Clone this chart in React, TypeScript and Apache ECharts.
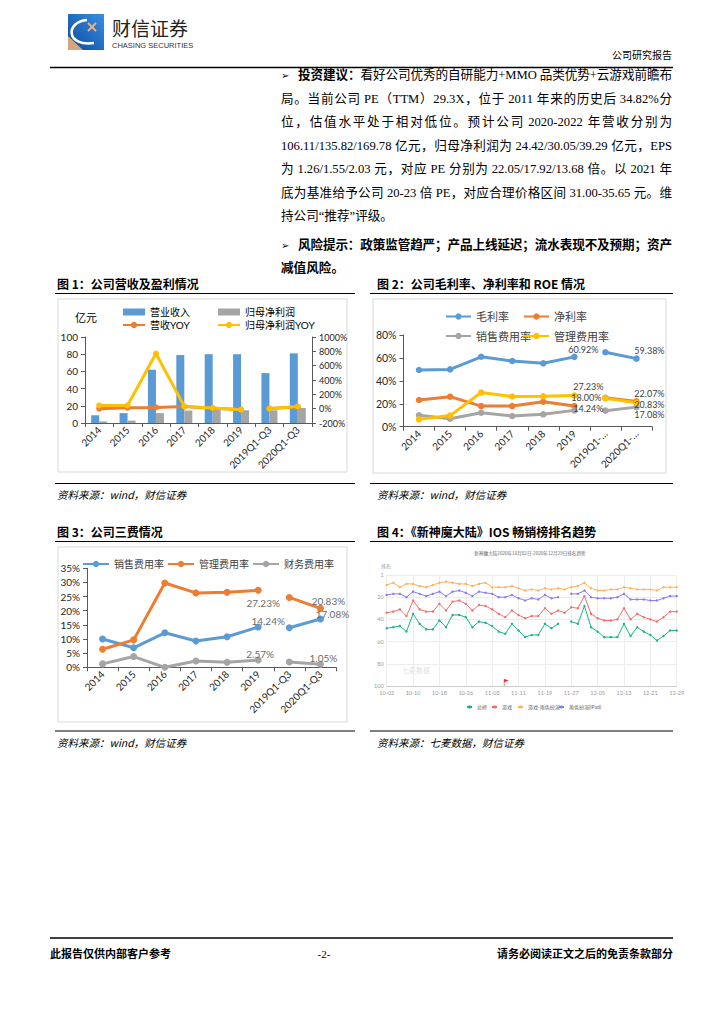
import { useEffect, useRef } from 'react';
import * as echarts from 'echarts';

// ---------------- data ----------------
const categories = ['2014', '2015', '2016', '2017', '2018', '2019', '2019Q1-Q3', '2020Q1-Q3'];
const chart2TickLabels = ['2014', '2015', '2016', '2017', '2018', '2019', '2019Q1-…', '2020Q1-…'];

// Fig 1 (亿元 / %)
const revenue = [9, 11.5, 62, 79, 80, 80, 58, 81];
const netProfit = [1.8, 2.8, 11.5, 14.5, 16, 14.8, 14.8, 17.5];
const revenueYoy = [0, 14, 18, 30, 5, -12, 2, 25];
const profitYoy = [45, 45, 770, 32, 10, -14, 0, 30];

// Fig 2 (%)
const grossMargin = [49.5, 50, 61, 57.3, 55.3, 60.92, 65, 59.38];
const netMargin = [23.3, 26.2, 18, 18, 21.8, 18.0, 25.3, 22.07];
// Fig 2 & 3 (%)
const salesRate = [10, 6.9, 12.2, 9.3, 10.8, 14.24, 14, 17.08];
const adminRate = [6.4, 9.7, 29.8, 26.3, 26.5, 27.23, 24.7, 20.83];
const financeRate = [1.2, 3.8, 0, 2.2, 1.8, 2.57, 1.9, 1.05];

// Fig 4 (iOS ranks)
const rankDates = [
  '10-02', '10-04', '10-06', '10-08', '10-10', '10-12', '10-14', '10-16', '10-18', '10-20', '10-22', '10-24', '10-26', '10-28', '10-30',
  '11-01', '11-03', '11-05', '11-07', '11-09', '11-11', '11-13', '11-15', '11-17', '11-19', '11-21', '11-23', '11-25', '11-27', '11-29',
  '12-01', '12-03', '12-05', '12-07', '12-09', '12-11', '12-13', '12-15', '12-17', '12-19', '12-21', '12-23', '12-25', '12-27', '12-29',
];
const rankNames = ['总榜', '游戏', '游戏-角色扮演', '角色扮演(iPad)'];
const rankOverall = [48, 47, 46, 51, 35, 44, 49, 49, 41, 47, 36, 36, 38, 47, 42, 43, 46, 51, 53, 44, 50, 56, 54, 54, 44, 48, 44, null, 42, 44, 28, 47, 51, 56, 56, 56, 44, 55, 47, 51, 54, 59, 55, 50, 50];
const rankGames = [34, 33, 31, 37, 23, 31, 33, 33, 26, 32, 24, 23, 26, 32, 27, 28, 31, 35, 38, 32, 36, 39, 37, 37, 30, 35, 32, 34, 29, 30, 19, 35, 39, 41, 41, 40, 30, 40, 35, 38, 40, 42, 38, 33, 33];
const rankRpg = [9, 7, 11, 8, 8, 10, 11, 9, 7, 6, 7, 8, 8, 10, 8, 7, 11, 11, 11, 10, 12, 14, 13, 14, 12, 13, 12, 13, 11, 10, 7, 12, 14, 14, 13, 13, 11, 12, 13, 13, 13, 14, 11, 11, 11];
const rankRpg2 = [18, 17, 17, 20, 15, 17, 19, 17, 15, 19, 15, 14, 16, 19, 15, 16, 17, 20, 20, 18, 21, 23, 21, 22, 18, 21, 20, null, 17, 17, 14, 20, 21, 21, 21, 20, 17, 22, 22, 22, 23, 23, 21, 19, 19];

// Text
const para1 = [
  '投资建议：看好公司优秀的自研能力+MMO 品类优势+云游戏前瞻布',
  '局。当前公司 PE（TTM）29.3X，位于 2011 年来的历史后 34.82%分',
  '位，估值水平处于相对低位。预计公司 2020-2022 年营收分别为',
  '106.11/135.82/169.78 亿元，归母净利润为 24.42/30.05/39.29 亿元，EPS',
  '为 1.26/1.55/2.03 元，对应 PE 分别为 22.05/17.92/13.68 倍。以 2021 年',
  '底为基准给予公司 20-23 倍 PE，对应合理价格区间 31.00-35.65 元。维',
  '持公司“推荐”评级。',
];
const para2 = ['风险提示：政策监管趋严；产品上线延迟；流水表现不及预期；资产', '减值风险。'];

// ---------------- helpers ----------------
const BODY_FONT = "'Liberation Serif', 'Noto Sans CJK SC', serif";
const CJK_FONT = "'Noto Sans CJK SC', sans-serif";
const CHART_FONT = "Lato, 'Noto Sans CJK SC', sans-serif";
const C_BLUE = '#5B9BD5';
const C_ORANGE = '#ED7D31';
const C_GRAY = '#A5A5A5';
const C_YELLOW = '#FFC000';
const AX = '#595959';

let mctx: CanvasRenderingContext2D | null = null;
function measure(text: string, font: string) {
  if (!mctx) mctx = document.createElement('canvas').getContext('2d');
  mctx!.font = font;
  return mctx!.measureText(text).width;
}
function tokenize(s: string) {
  const out: string[] = [];
  let buf = '';
  for (const ch of s) {
    if (ch.charCodeAt(0) < 0x100) buf += ch;
    else {
      if (buf) { out.push(buf); buf = ''; }
      out.push(ch);
    }
  }
  if (buf) out.push(buf);
  return out;
}
function textLine(text: string, x0: number, x1: number, y: number, size: number, boldCount: number, justify: boolean) {
  const toks = tokenize(text);
  let idx = 0;
  const items = toks.map((t) => {
    const bold = idx < boldCount;
    idx += [...t].length;
    const font = `${bold ? 'bold' : 'normal'} ${size}px ${BODY_FONT}`;
    const sp = measure(' ', font);
    const lead = t.length - t.replace(/^ +/, '').length;
    const core = t.trim();
    const trail = t.length - t.replace(/ +$/, '').length;
    const coreW = core ? measure(core, font) : 0;
    return { core, bold, lead: lead * sp, w: lead * sp + coreW + (core ? trail * sp : 0) };
  });
  const total = items.reduce((a, b) => a + b.w, 0);
  const gap = justify && items.length > 1 ? (x1 - x0 - total) / (items.length - 1) : 0;
  let x = x0;
  const els: any[] = [];
  items.forEach((it) => {
    if (it.core) {
      els.push({
        type: 'text', x: x + it.lead, y, silent: true,
        style: { text: it.core, fontSize: size, fontFamily: BODY_FONT, fontWeight: it.bold ? 'bold' : 'normal', fill: '#000', align: 'left', verticalAlign: 'middle' },
      });
    }
    x += it.w + gap;
  });
  return els;
}
function txt(x: number, y: number, text: string, o: any = {}) {
  return {
    type: 'text', x, y, silent: true,
    style: {
      text, fontSize: o.size ?? 12, fontFamily: o.family ?? CJK_FONT, fontWeight: o.weight ?? 'normal',
      fontStyle: o.italic ? 'italic' : 'normal', fill: o.color ?? '#000', align: o.align ?? 'left', verticalAlign: 'middle',
    },
  };
}
function hline(x1: number, x2: number, y: number, w = 1.2, color = '#000') {
  return { type: 'line', silent: true, shape: { x1, y1: y, x2, y2: y }, style: { stroke: color, lineWidth: w } };
}
function box(x: number, y: number, w: number, h: number) {
  return { type: 'rect', silent: true, shape: { x, y, width: w, height: h }, style: { fill: 'none', stroke: '#D9D9D9', lineWidth: 1 } };
}
// split series into the two segments (annual / Q1-Q3) with optional per-point labels
function seg(arr: (number | null)[], from: number, to: number, labels: Record<number, any> = {}, digits = 2) {
  return arr.map((v, i) => {
    if (i < from || i > to || v === null) return '-';
    const l = labels[i];
    if (l) return { value: v, label: { show: true, formatter: (v as number).toFixed(digits) + '%', ...l } };
    return v;
  });
}
function legend(name: string, left: number, top: number, o: any = {}) {
  return {
    data: [name], left, top, padding: 0, selectedMode: false,
    itemWidth: o.w ?? 22, itemHeight: o.h ?? 8, itemGap: 0,
    icon: o.icon,
    textStyle: { fontSize: o.size ?? 10, color: o.color ?? '#000', fontFamily: CHART_FONT },
  };
}

export default function App() {
  const ref = useRef<HTMLDivElement>(null);
  useEffect(() => {
    if (!ref.current) return;
    const chart = echarts.init(ref.current, null, { renderer: 'svg' });

    const graphics: any[] = [];
    // header
    graphics.push({
      type: 'group', x: 68, y: 14, silent: true,
      children: [
        { type: 'rect', shape: { x: 0, y: 0, width: 36, height: 36 }, style: { fill: new echarts.graphic.LinearGradient(1, 0, 0, 1, [{ offset: 0, color: '#3a8fe0' }, { offset: 1, color: '#0a4a9e' }]) } },
        { type: 'polygon', shape: { points: [[0, 22], [0, 36], [15, 36]] }, style: { fill: '#D8A67C' } },
        { type: 'bezierCurve', shape: { x1: 19, y1: 6, cpx1: -3, cpy1: 8, cpx2: -2, cpy2: 33, x2: 26, y2: 29 }, style: { stroke: '#fff', lineWidth: 2.6, fill: 'none' } },
        { type: 'line', shape: { x1: 20, y1: 9, x2: 28, y2: 17 }, style: { stroke: '#F4B183', lineWidth: 1.8 } },
        { type: 'line', shape: { x1: 28, y1: 9, x2: 20, y2: 17 }, style: { stroke: '#F4B183', lineWidth: 1.8 } },
      ],
    });
    graphics.push(txt(112, 27, '财信证券', { size: 19, color: '#222' }));
    graphics.push(txt(112, 45.5, 'CHASING SECURITIES', { size: 7.5, color: '#333', family: "'Liberation Sans', sans-serif" }));
    graphics.push(txt(672, 54, '公司研究报告', { size: 10, align: 'right' }));
    graphics.push(hline(50, 673, 67.5, 1.6));

    // paragraphs
    const lineYs = [75, 99, 122, 145.5, 169, 192.5, 216];
    graphics.push(txt(281, 75, '➢', { size: 10, family: "'DejaVu Sans', sans-serif" }));
    para1.forEach((t, i) => {
      graphics.push(...textLine(t, i === 0 ? 298 : 281, 672, lineYs[i], 12.6, i === 0 ? 5 : 0, i < para1.length - 1));
    });
    graphics.push(txt(281, 245, '➢', { size: 10, family: "'DejaVu Sans', sans-serif" }));
    graphics.push(...textLine(para2[0], 298, 672, 245, 12.6, 999, true));
    graphics.push(...textLine(para2[1], 281, 672, 268, 12.6, 999, false));

    // captions, rules, sources
    graphics.push(txt(57, 283, '图 1：公司营收及盈利情况', { size: 12, weight: 'bold' }));
    graphics.push(txt(377, 283, '图 2：公司毛利率、净利率和 ROE 情况', { size: 12, weight: 'bold' }));
    graphics.push(hline(55, 355, 293.5), hline(370, 673, 293.5));
    graphics.push(box(58, 299, 289, 173), box(373, 299, 293, 174));
    graphics.push(hline(55, 355, 483.5), hline(370, 673, 483.5));
    graphics.push(txt(57, 494, '资料来源：wind，财信证券', { size: 10.5, italic: true }));
    graphics.push(txt(377, 494, '资料来源：wind，财信证券', { size: 10.5, italic: true }));

    graphics.push(txt(57, 531, '图 3：公司三费情况', { size: 12, weight: 'bold' }));
    graphics.push(txt(377, 531, '图 4：《新神魔大陆》IOS 畅销榜排名趋势', { size: 12, weight: 'bold' }));
    graphics.push(hline(55, 355, 541.5), hline(370, 673, 541.5));
    graphics.push(box(58, 547, 289, 175));
    graphics.push(hline(55, 355, 731), hline(370, 673, 731));
    graphics.push(txt(57, 742, '资料来源：wind，财信证券', { size: 10.5, italic: true }));
    graphics.push(txt(377, 742, '资料来源：七麦数据，财信证券', { size: 10.5, italic: true }));

    // chart-internal texts
    graphics.push(txt(75, 317, '亿元', { size: 11, family: CHART_FONT }));
    graphics.push(txt(530, 553, '新神魔大陆2020年10月02日-2020年12月29日排名趋势', { size: 4.6, color: '#666', align: 'center' }));
    graphics.push(txt(381, 565, '排名', { size: 5, color: '#999' }));
    graphics.push(txt(402, 670, '七麦数据', { size: 7, color: '#E2E2E2' }));

    // footer
    graphics.push(hline(50, 673, 938, 1.6));
    graphics.push(txt(50, 954, '此报告仅供内部客户参考', { size: 11, weight: 'bold', family: BODY_FONT }));
    graphics.push(txt(324, 954, '-2-', { size: 11, align: 'center', family: BODY_FONT }));
    graphics.push(txt(673, 954, '请务必阅读正文之后的免责条款部分', { size: 11, weight: 'bold', align: 'right', family: BODY_FONT }));

    const axisLine = { show: true, onZero: false, lineStyle: { color: AX, width: 1 } };
    const axisTick = { show: true, length: 4, lineStyle: { color: AX } };
    const catAxis = (gridIndex: number, data: string[]) => ({
      gridIndex, type: 'category', data, axisLine, axisTick,
      axisLabel: { rotate: 45, fontSize: 10, color: '#262626', margin: 5, interval: 0 },
      splitLine: { show: false },
    });
    const valAxis = (gridIndex: number, min: number, max: number, interval: number, pct: boolean, size: number, pos = 'left') => ({
      gridIndex, type: 'value', min, max, interval, position: pos, axisLine, axisTick,
      axisLabel: { formatter: (v: number) => (pct ? `${v}%` : `${v}`), fontSize: size, color: '#262626', margin: 7 },
      splitLine: { show: false },
    });

    const line = (name: string, color: string, x: number, y: number, data: any[], size = 6, width = 3) => ({
      name, type: 'line', xAxisIndex: x, yAxisIndex: y, data, symbol: 'circle', symbolSize: size,
      lineStyle: { color, width }, itemStyle: { color }, connectNulls: false,
      label: { show: false, fontSize: 9, color: '#404040' },
    });
    const L2 = { fontSize: 9, color: '#404040', position: 'top' };
    const L3 = { fontSize: 10, color: '#6b6b6b', position: 'top' };

    const rankLine = (name: string, color: string, data: any[]) => ({
      name, type: 'line', xAxisIndex: 3, yAxisIndex: 4, data: data.map((v) => (v === null ? '-' : v)),
      symbol: 'circle', symbolSize: 2.4, lineStyle: { color, width: 1 }, itemStyle: { color }, connectNulls: false,
    });

    const option: any = {
      animation: false,
      textStyle: { fontFamily: CHART_FONT },
      grid: [
        { left: 85, top: 337, width: 227, height: 86, outerBoundsMode: 'none' },
        { left: 403.5, top: 335, width: 248.5, height: 91.7, outerBoundsMode: 'none' },
        { left: 87, top: 568.3, width: 249, height: 99, outerBoundsMode: 'none' },
        { left: 386.7, top: 575, width: 290, height: 111, outerBoundsMode: 'none' },
      ],
      xAxis: [
        catAxis(0, categories),
        catAxis(1, chart2TickLabels),
        catAxis(2, categories),
        {
          gridIndex: 3, type: 'category', data: rankDates, boundaryGap: false,
          axisLine: { show: true, onZero: false, lineStyle: { color: '#CCCCCC' } },
          axisTick: { show: false },
          axisLabel: { interval: 3, fontSize: 5.5, color: '#999', margin: 4 },
          splitLine: { show: true, interval: 3, lineStyle: { color: '#EDEDED' } },
        },
      ],
      yAxis: [
        valAxis(0, 0, 100, 20, false, 10),
        valAxis(0, -200, 1000, 200, true, 9, 'right'),
        valAxis(1, 0, 80, 20, true, 10.5),
        valAxis(2, 0, 35, 5, true, 10),
        {
          gridIndex: 3, type: 'value', inverse: true, min: 0, max: 100, interval: 20,
          axisLine: { show: false }, axisTick: { show: false },
          axisLabel: { fontSize: 5.5, color: '#999', margin: 3, formatter: (v: number) => (v === 0 ? '1' : String(v)) },
          splitLine: { show: true, lineStyle: { color: '#EDEDED' } },
        },
      ],
      legend: [
        legend('营业收入', 123, 307, { icon: 'rect', h: 7 }),
        legend('归母净利润', 218, 307, { icon: 'rect', h: 7 }),
        legend('营收YOY', 122, 320),
        legend('归母净利润YOY', 217, 320),
        legend('毛利率', 445, 311, { w: 25, size: 11, color: '#404040' }),
        legend('净利率', 523, 311, { w: 25, size: 11, color: '#404040' }),
        legend('销售费用率', 445, 330.5, { w: 25, size: 11, color: '#404040' }),
        legend('管理费用率', 523, 330.5, { w: 25, size: 11, color: '#404040' }),
        legend('销售费用率 ', 82, 559, { w: 26, size: 10, color: '#404040' }),
        legend('管理费用率 ', 167, 559, { w: 26, size: 10, color: '#404040' }),
        legend('财务费用率', 252, 559, { w: 26, size: 10, color: '#404040' }),
        legend(rankNames[0], 466, 704.5, { w: 5, h: 4, size: 5, color: '#666' }),
        legend(rankNames[1], 491, 704.5, { w: 5, h: 4, size: 5, color: '#666' }),
        legend(rankNames[2], 517, 704.5, { w: 5, h: 4, size: 5, color: '#666' }),
        legend(rankNames[3], 558, 704.5, { w: 5, h: 4, size: 5, color: '#666' }),
      ],
      graphic: graphics,
      series: [
        // Fig 1
        { name: '营业收入', type: 'bar', xAxisIndex: 0, yAxisIndex: 0, data: revenue, barWidth: 8, barGap: '0%', itemStyle: { color: C_BLUE } },
        { name: '归母净利润', type: 'bar', xAxisIndex: 0, yAxisIndex: 0, data: netProfit, barWidth: 8, barGap: '0%', itemStyle: { color: C_GRAY } },
        line('营收YOY', C_ORANGE, 0, 1, seg(revenueYoy, 0, 5)),
        line('营收YOY', C_ORANGE, 0, 1, seg(revenueYoy, 6, 7)),
        line('归母净利润YOY', C_YELLOW, 0, 1, seg(profitYoy, 0, 5)),
        line('归母净利润YOY', C_YELLOW, 0, 1, seg(profitYoy, 6, 7)),
        // Fig 2
        line('毛利率', C_BLUE, 1, 2, seg(grossMargin, 0, 5, { 5: { ...L2, offset: [9, 5] } }), 6.5),
        line('毛利率', C_BLUE, 1, 2, seg(grossMargin, 6, 7, { 7: { ...L2, offset: [13, 5] } }), 6.5),
        line('净利率', C_ORANGE, 1, 2, seg(netMargin, 0, 5, { 5: { ...L2, offset: [12, 4] } }), 6.5),
        line('净利率', C_ORANGE, 1, 2, seg(netMargin, 6, 7, { 7: { ...L2, offset: [13, 5] } }), 6.5),
        line('销售费用率', C_GRAY, 1, 2, seg(salesRate, 0, 5, { 5: { ...L2, offset: [14, 11] } }), 6.5),
        line('销售费用率', C_GRAY, 1, 2, seg(salesRate, 6, 7, { 7: { ...L2, offset: [13, 20] } }), 6.5),
        line('管理费用率', C_YELLOW, 1, 2, seg(adminRate, 0, 5, { 5: { ...L2, offset: [14, 4] } }), 6.5),
        line('管理费用率', C_YELLOW, 1, 2, seg(adminRate, 6, 7, { 7: { ...L2, offset: [13, 14] } }), 6.5),
        // Fig 3
        line('销售费用率 ', C_BLUE, 2, 3, seg(salesRate, 0, 5, { 5: { ...L3, offset: [10, 7] } }), 7),
        line('销售费用率 ', C_BLUE, 2, 3, seg(salesRate, 6, 7, { 7: { ...L3, offset: [12, 8] } }), 7),
        line('管理费用率 ', C_ORANGE, 2, 3, seg(adminRate, 0, 5, { 5: { ...L3, position: 'bottom', offset: [5, -1] } }), 7),
        line('管理费用率 ', C_ORANGE, 2, 3, seg(adminRate, 6, 7, { 7: { ...L3, offset: [8, 6] } }), 7),
        line('财务费用率', C_GRAY, 2, 3, seg(financeRate, 0, 5, { 5: { ...L3, offset: [2, 7] } }), 7),
        line('财务费用率', C_GRAY, 2, 3, seg(financeRate, 6, 7, { 7: { ...L3, offset: [3, 7] } }), 7),
        // Fig 4
        {
          ...rankLine(rankNames[0], '#18B38C', rankOverall),
          markPoint: {
            symbol: 'path://M0,0 L1,0 L8,2.5 L1,5 L1,11 L0,11 Z', symbolSize: [5, 7], symbolOffset: [1, -3.5],
            itemStyle: { color: '#E53935' }, label: { show: false }, silent: true,
            data: [{ coord: ['11-07', 100] }],
          },
        },
        rankLine(rankNames[1], '#F36D6D', rankGames),
        rankLine(rankNames[2], '#FDB35E', rankRpg),
        rankLine(rankNames[3], '#8A7BFA', rankRpg2),
      ],
    };
    chart.setOption(option);
    return () => chart.dispose();
  }, []);
  return <div ref={ref} style={{ position: 'absolute', left: 0, top: 0, width: 724, height: 1024, background: '#fff' }} />;
}
